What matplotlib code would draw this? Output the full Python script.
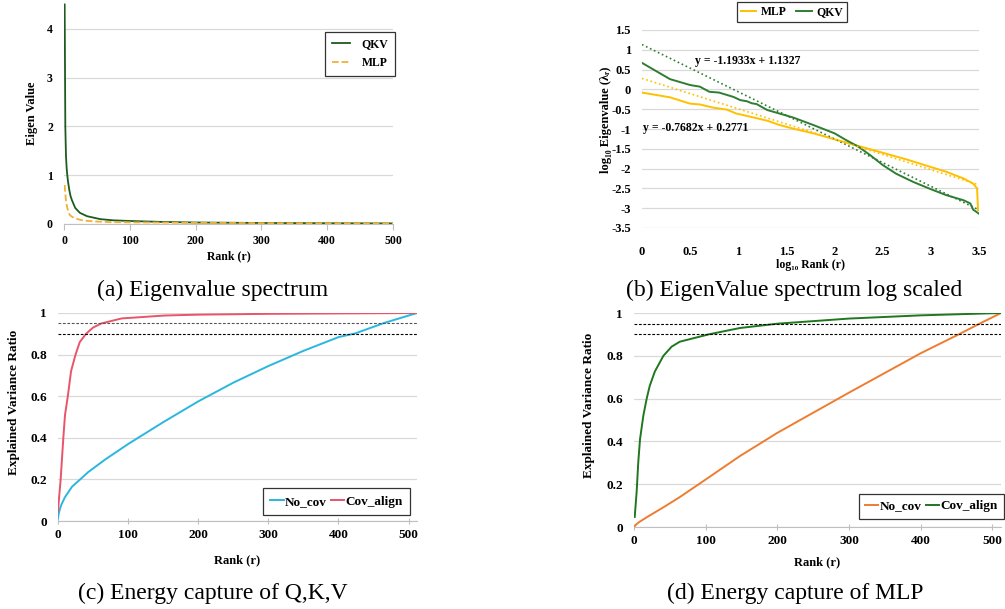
import numpy as np
import matplotlib
matplotlib.use('Agg')
import matplotlib.pyplot as plt

plt.rcParams['font.family'] = ['Liberation Serif', 'DejaVu Serif']
plt.rcParams['font.weight'] = 'bold'

# ---- (a) eigenvalue spectrum ----
a_rank_qkv = [1, 2, 3, 4, 5, 6, 8, 10, 12, 17, 24, 35, 55, 75, 100, 150, 200, 300, 400, 500]
a_qkv = [4.5, 2.0, 1.4, 1.15, 1.0, 0.88, 0.7, 0.57, 0.49, 0.33, 0.23, 0.16, 0.1, 0.075,
         0.062, 0.042, 0.031, 0.021, 0.016, 0.012]
a_rank_mlp = [1, 2, 3, 4, 5, 7, 9, 12, 17, 25, 34, 50, 70, 100, 200, 300, 400, 500]
a_mlp = [0.8, 0.62, 0.49, 0.4, 0.33, 0.24, 0.18, 0.15, 0.115, 0.085, 0.065, 0.05, 0.04,
         0.034, 0.024, 0.018, 0.015, 0.012]

# ---- (b) log-log spectrum ----
b_x_qkv = [0, 0.29, 0.5, 0.6, 0.7, 0.8, 0.95, 1.02, 1.09, 1.14, 1.19, 1.3, 1.4, 1.57,
           1.78, 2.0, 2.12, 2.25, 2.37, 2.5, 2.64, 2.82, 3.0, 3.16, 3.34, 3.41, 3.44,
           3.46, 3.5]
b_y_qkv = [0.67, 0.26, 0.11, 0.07, -0.06, -0.08, -0.19, -0.27, -0.3, -0.35, -0.37,
           -0.52, -0.59, -0.71, -0.9, -1.11, -1.28, -1.45, -1.66, -1.91, -2.13, -2.34,
           -2.52, -2.67, -2.8, -2.88, -3.04, -3.07, -3.14]
b_x_mlp = [0, 0.29, 0.5, 0.6, 0.74, 0.88, 0.98, 1.09, 1.3, 1.43, 1.57, 1.78, 2.0, 2.25,
           2.5, 2.75, 3.0, 3.16, 3.34, 3.44, 3.48, 3.49]
b_y_mlp = [-0.08, -0.2, -0.36, -0.38, -0.46, -0.51, -0.61, -0.67, -0.79, -0.9, -0.99,
           -1.11, -1.26, -1.43, -1.6, -1.77, -1.96, -2.08, -2.25, -2.38, -2.5, -3.05]
fit_qkv = [-1.1933, 1.1327]
fit_mlp = [-0.7682, 0.2771]
fit_range = [0, 3.5]

# ---- (c) energy capture Q,K,V ----
c_rank_cov = [0, 1, 2, 3.8, 7.6, 10, 14, 18.6, 25, 31, 40, 50, 62, 91, 153, 200, 300,
              400, 512]
c_cov = [0.045, 0.09, 0.13, 0.2, 0.4, 0.51, 0.6, 0.72, 0.8, 0.86, 0.9, 0.93, 0.95, 0.974,
         0.988, 0.992, 0.996, 0.998, 1.0]
c_rank_no = [0, 1, 2.5, 5, 10, 15, 20, 30, 43, 67, 100, 150, 200, 250, 300, 350, 400,
             424, 465, 512]
c_no = [0.013, 0.035, 0.055, 0.08, 0.115, 0.14, 0.165, 0.195, 0.235, 0.295, 0.37, 0.475,
        0.575, 0.665, 0.745, 0.818, 0.884, 0.902, 0.952, 1.0]

# ---- (d) energy capture MLP ----
d_rank_cov = [1, 2, 3.7, 6, 8.4, 13, 17.7, 22, 29, 41, 52.6, 64, 87.5, 104, 148, 200,
              300, 400, 512]
d_cov = [0.047, 0.09, 0.165, 0.305, 0.41, 0.52, 0.6, 0.66, 0.726, 0.8, 0.843, 0.866,
         0.886, 0.9, 0.93, 0.95, 0.974, 0.989, 1.0]
d_rank_no = [0, 3, 8, 20, 41, 64, 100, 148, 200, 300, 400, 453, 482, 512]
d_no = [0.0, 0.012, 0.025, 0.05, 0.092, 0.14, 0.222, 0.332, 0.44, 0.628, 0.812, 0.9,
        0.95, 1.0]

thresholds = [0.95, 0.9]
threshold_colors = ['#555555', 'black']

W, H = 1005, 609
fig = plt.figure(figsize=(W / 100, H / 100), dpi=100)


def px_axes(l, r, t, b):
    return fig.add_axes([l / W, 1 - b / H, (r - l) / W, (b - t) / H])


def style(ax, fs):
    for s in ['top', 'right', 'left']:
        ax.spines[s].set_visible(False)
    ax.spines['bottom'].set_color('#bfbfbf')
    ax.grid(axis='y', color='#d9d9d9', lw=0.9)
    ax.set_axisbelow(True)
    ax.tick_params(axis='y', length=0, labelsize=fs, pad=8)
    ax.tick_params(axis='x', length=5, color='#bfbfbf', labelsize=fs, pad=3,
                   direction='inout')
    for t in ax.get_xticklabels() + ax.get_yticklabels():
        t.set_fontweight('bold')


# (a)
ax = px_axes(64, 393, 3, 224)
ax.plot(a_rank_qkv, a_qkv, color='#1e5b1e', lw=1.3, label='QKV')
ax.plot(a_rank_mlp, a_mlp, color='#f2b134', lw=1.3, ls='--', label='MLP')
ax.set_xlim(0, 500)
ax.set_ylim(0, 4.53)
ax.set_xticks(range(0, 501, 100))
ax.set_yticks([0, 1, 2, 3, 4])
style(ax, 8.5)
ax.tick_params(axis='x', direction='out', length=4, pad=4)
ax.set_xlabel('Rank (r)', fontsize=8.5, fontweight='bold', labelpad=2)
ax.set_ylabel('Eigen Value', fontsize=9, fontweight='bold')
ax.yaxis.set_label_coords(-0.08, 0.5)
leg = ax.legend(loc='upper right', bbox_to_anchor=(1.005, 0.87), borderaxespad=0,
                fontsize=8.5, fancybox=False, edgecolor='black', handlelength=1.5,
                borderpad=0.55, labelspacing=0.6, handletextpad=1.0)
leg.get_frame().set_linewidth(0.9)

# (b)
ax = px_axes(642, 979, 30, 228)
ax.plot(b_x_mlp, b_y_mlp, color='#ffc000', lw=1.4, label='MLP')
ax.plot(b_x_qkv, b_y_qkv, color='#2e7d32', lw=1.4, label='QKV')
ax.plot(fit_range, np.polyval(fit_qkv, fit_range), color='#2e7d32', lw=1.2, ls=':')
ax.plot(fit_range, np.polyval(fit_mlp, fit_range), color='#ffc000', lw=1.2, ls=':')
ax.text(0.55, 0.72, 'y = -1.1933x + 1.1327', fontsize=8.5, fontweight='bold', va='center')
ax.text(0.01, -0.97, 'y = -0.7682x + 0.2771', fontsize=8.5, fontweight='bold', va='center')
ax.set_xlim(0, 3.5)
ax.set_ylim(-3.5, 1.5)
ax.set_xticks(np.arange(0, 3.51, 0.5))
ax.set_xticklabels(['0', '0.5', '1', '1.5', '2', '2.5', '3', '3.5'])
ax.set_yticks(np.arange(-3.5, 1.51, 0.5))
ax.set_yticklabels(['-3.5', '-3', '-2.5', '-2', '-1.5', '-1', '-0.5', '0', '0.5', '1', '1.5'])
style(ax, 9)
ax.spines['bottom'].set_visible(False)
ax.tick_params(axis='x', length=0, pad=13)
ax.set_xlabel('log₁₀ Rank (r)', fontsize=8.5, fontweight='bold', labelpad=1)
ax.set_ylabel('log₁₀ Eigenvalue (λᵣ)', fontsize=9, fontweight='bold')
ax.yaxis.set_label_coords(-0.089, 0.545)
leg = ax.legend(loc='center', bbox_to_anchor=(792 / W, 1 - 12 / H),
                bbox_transform=fig.transFigure, ncol=2, fontsize=8.5, fancybox=False,
                edgecolor='black', handlelength=1.3, borderpad=0.3, columnspacing=0.8,
                handletextpad=0.4)
leg.get_frame().set_linewidth(0.9)

# (c)
ax = px_axes(58, 417, 313, 521)
ax.plot(c_rank_no, c_no, color='#2bb6df', lw=1.4, label='No_cov')
ax.plot(c_rank_cov, c_cov, color='#e9546b', lw=1.4, label='Cov_align')
for th, tc in zip(thresholds, threshold_colors):
    ax.axhline(th, color=tc, lw=0.8, ls=(0, (2.5, 1.5)))
ax.set_xlim(0, 512)
ax.set_ylim(0, 1)
ax.set_xticks(range(0, 501, 100))
ax.set_yticks([0, 0.2, 0.4, 0.6, 0.8, 1])
ax.set_yticklabels(['0', '0.2', '0.4', '0.6', '0.8', '1'])
style(ax, 9.5)
ax.set_xlabel('Rank (r)', fontsize=9, fontweight='bold', labelpad=10)
ax.set_ylabel('Explained Variance Ratio', fontsize=9.5, fontweight='bold')
ax.yaxis.set_label_coords(-0.105, 0.572)
leg = ax.legend(loc='lower right', bbox_to_anchor=(0.98, 0.029), borderaxespad=0,
                ncol=2, fontsize=9.5, fancybox=False, edgecolor='black',
                handlelength=1.0, handletextpad=0.1, columnspacing=0.3, borderpad=0.55)
leg.get_frame().set_linewidth(0.9)

# (d)
ax = px_axes(634, 1001, 313, 527)
ax.plot(d_rank_no, d_no, color='#ed7d31', lw=1.4, label='No_cov')
ax.plot(d_rank_cov, d_cov, color='#1f771f', lw=1.4, label='Cov_align')
for th in thresholds:
    ax.axhline(th, color='black', lw=0.8, ls=(0, (2.5, 1.5)))
ax.set_xlim(0, 512)
ax.set_ylim(0, 1)
ax.set_xticks(range(0, 501, 100))
ax.set_yticks([0, 0.2, 0.4, 0.6, 0.8, 1])
ax.set_yticklabels(['0', '0.2', '0.4', '0.6', '0.8', '1'])
style(ax, 9.5)
ax.set_xlabel('Rank (r)', fontsize=9, fontweight='bold', labelpad=7)
ax.set_ylabel('Explained Variance Ratio', fontsize=9.5, fontweight='bold')
ax.yaxis.set_label_coords(-0.105, 0.57)
leg = ax.legend(loc='lower right', bbox_to_anchor=(1.008, 0.037), borderaxespad=0,
                ncol=2, fontsize=9.5, fancybox=False, edgecolor='black',
                handlelength=1.0, handletextpad=0.1, columnspacing=0.3, borderpad=0.5)
leg.get_frame().set_linewidth(0.9)

# captions
caps = [('(a) Eigenvalue spectrum', 213, 290),
        ('(b) EigenValue spectrum log scaled', 794, 290),
        ('(c) Energy capture of Q,K,V', 213, 593),
        ('(d) Energy capture of MLP', 795, 593)]
for txt, cx, cy in caps:
    fig.text(cx / W, 1 - cy / H, txt, ha='center', va='center', fontsize=17,
             fontweight='normal')

fig.savefig('out.png', dpi=100)
